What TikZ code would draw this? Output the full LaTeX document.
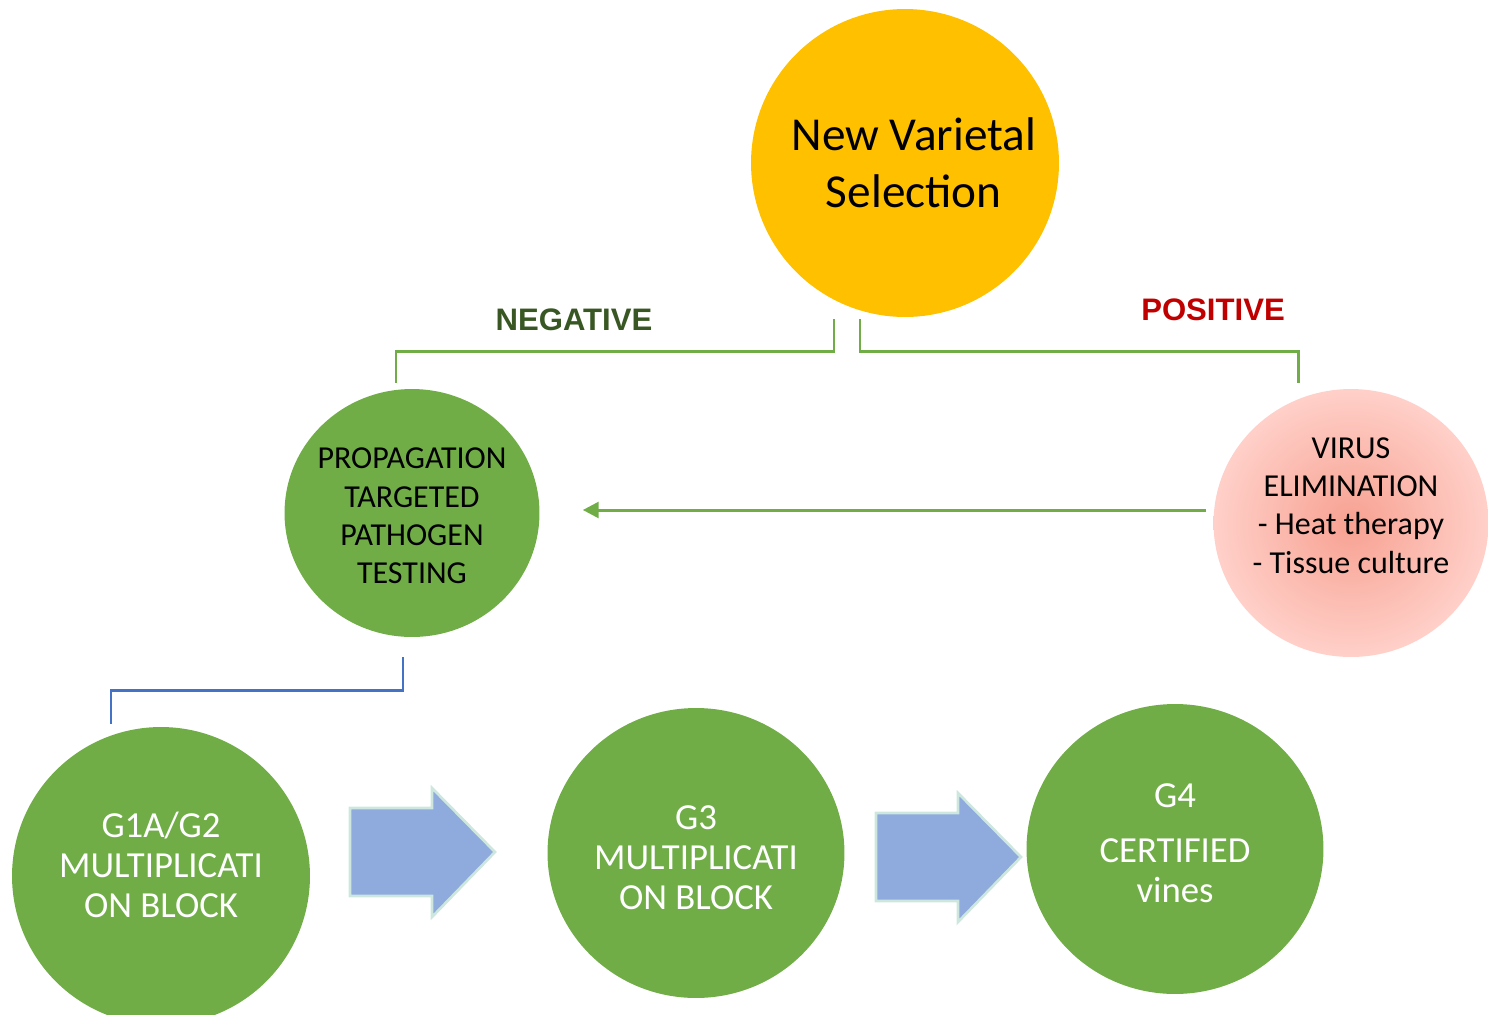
\documentclass[tikz,border=0pt]{standalone}
\usepackage{fontspec}
\setmainfont{Carlito}
\newfontfamily\tagfont{Liberation Sans}
\usepackage{tikz}
\usetikzlibrary{arrows.meta,calc,positioning,shapes.geometric}

\definecolor{gold}{HTML}{FFC000}
\definecolor{leaf}{HTML}{70AD47}
\definecolor{darkleaf}{HTML}{385723}
\definecolor{alarm}{HTML}{C00000}
\definecolor{steel}{HTML}{4472C4}
\definecolor{arrowfill}{HTML}{8FAADC}
\definecolor{arrowedge}{HTML}{CDE7DF}
\definecolor{salmon}{HTML}{F7A191}
\definecolor{blush}{HTML}{FFD0C9}

\begin{document}
\begin{tikzpicture}
    [   x = 0.02cm, y = -0.02cm
    ,   sun/.style=
        {   circle
        ,   fill = gold
        ,   inner sep = 0pt
        ,   minimum size = 6.16cm
        }
    ,   suntext/.style=
        {   align = center
        ,   font = \fontsize{26.9}{32.3}\selectfont
        }
    ,   stage/.style=
        {   ellipse
        ,   fill = leaf
        ,   inner sep = 0pt
        ,   minimum width = 5.94cm
        ,   minimum height = 5.8cm
        }
    ,   stagetext/.style=
        {   align = center
        ,   text = white
        ,   font = \fontsize{20.9}{22.7}\selectfont
        }
    ,   smalltext/.style=
        {   align = center
        ,   text = black
        ,   font = \fontsize{18.2}{21.8}\selectfont
        }
    ,   cure/.style=
        {   ellipse
        ,   inner sep = 0pt
        ,   minimum width = 5.5cm
        ,   minimum height = 5.36cm
        ,   inner color = salmon
        ,   outer color = blush
        }
    ,   tag/.style=
        {   font = \tagfont\bfseries\fontsize{17.7}{20}\selectfont
        }
    ,   branch/.style=
        {   draw = leaf
        ,   line width = 1.7pt
        }
    ,   blockarrow/.style=
        {   fill = arrowfill
        ,   draw = arrowedge
        ,   line width = 1.5pt
        ,   line join = miter
        }
    ]
    \useasboundingbox (0,0) rectangle (1489,1015);
    \clip (0,0) rectangle (1489,1015);

    % selection and the two branches
    \node[sun, label={[suntext, xshift=5pt]center:{New Varietal\\Selection}}] (nvs) at (905,163) {};
    \node[stage, minimum width=5.1cm, minimum height=4.96cm,
        label={[smalltext, yshift=-1.7pt]center:{PROPAGATION\\TARGETED\\PATHOGEN\\TESTING}}] (prop) at (412,513) {};
    \node[cure, label={[smalltext, yshift=10pt]center:{VIRUS\\ELIMINATION\\- Heat therapy\\- Tissue culture}}] (virus) at (1351,523) {};

    \node[tag, text=darkleaf] (neg) at (574,320) {NEGATIVE};
    \node[tag, text=alarm] (pos) at (1213,310) {POSITIVE};

    \draw[branch] ($(nvs.south)+(-71,2)$) -- ++(0,32) -| ($(prop.north)+(-16,-6)$);
    \draw[branch] ($(nvs.south)+(-45,2)$) -- ++(0,32) -| ($(virus.north)+(-53,-6)$);
    \draw[branch, -{Triangle[length=9pt,width=9pt]}]
        ($(virus.west)+(-7,-13)$) -- ($(prop.east)+(43,-3)$);

    % multiplication stages
    \node[stage, minimum width=5.96cm, minimum height=5.96cm,
        label={[stagetext, yshift=6.2pt]center:{G1A/G2\\MULTIPLICATI\\ON BLOCK}}] (g12) at (161,876) {};
    \node[stage, label={[stagetext, yshift=-2.5pt]center:{G3\\MULTIPLICATI\\ON BLOCK}}] (g3) at (696,853) {};
    \node[stage, label={[stagetext, yshift=3.4pt]center:{G4\\[9pt]CERTIFIED\\vines}}] (g4) at (1175,849) {};

    \draw[branch, draw=steel] ($(prop.south)+(-9,20)$) -- ++(0,33) -| ($(g12.north)+(-50,-3)$);

    \foreach \x/\y in {350/808, 876/813}
        \draw[blockarrow] (\x,\y) -- ++(82,0) -- ++(0,-20) -- ++(63,64)
            -- ++(-63,65) -- ++(0,-21) -- ++(-82,0) -- cycle;
\end{tikzpicture}
\end{document}
